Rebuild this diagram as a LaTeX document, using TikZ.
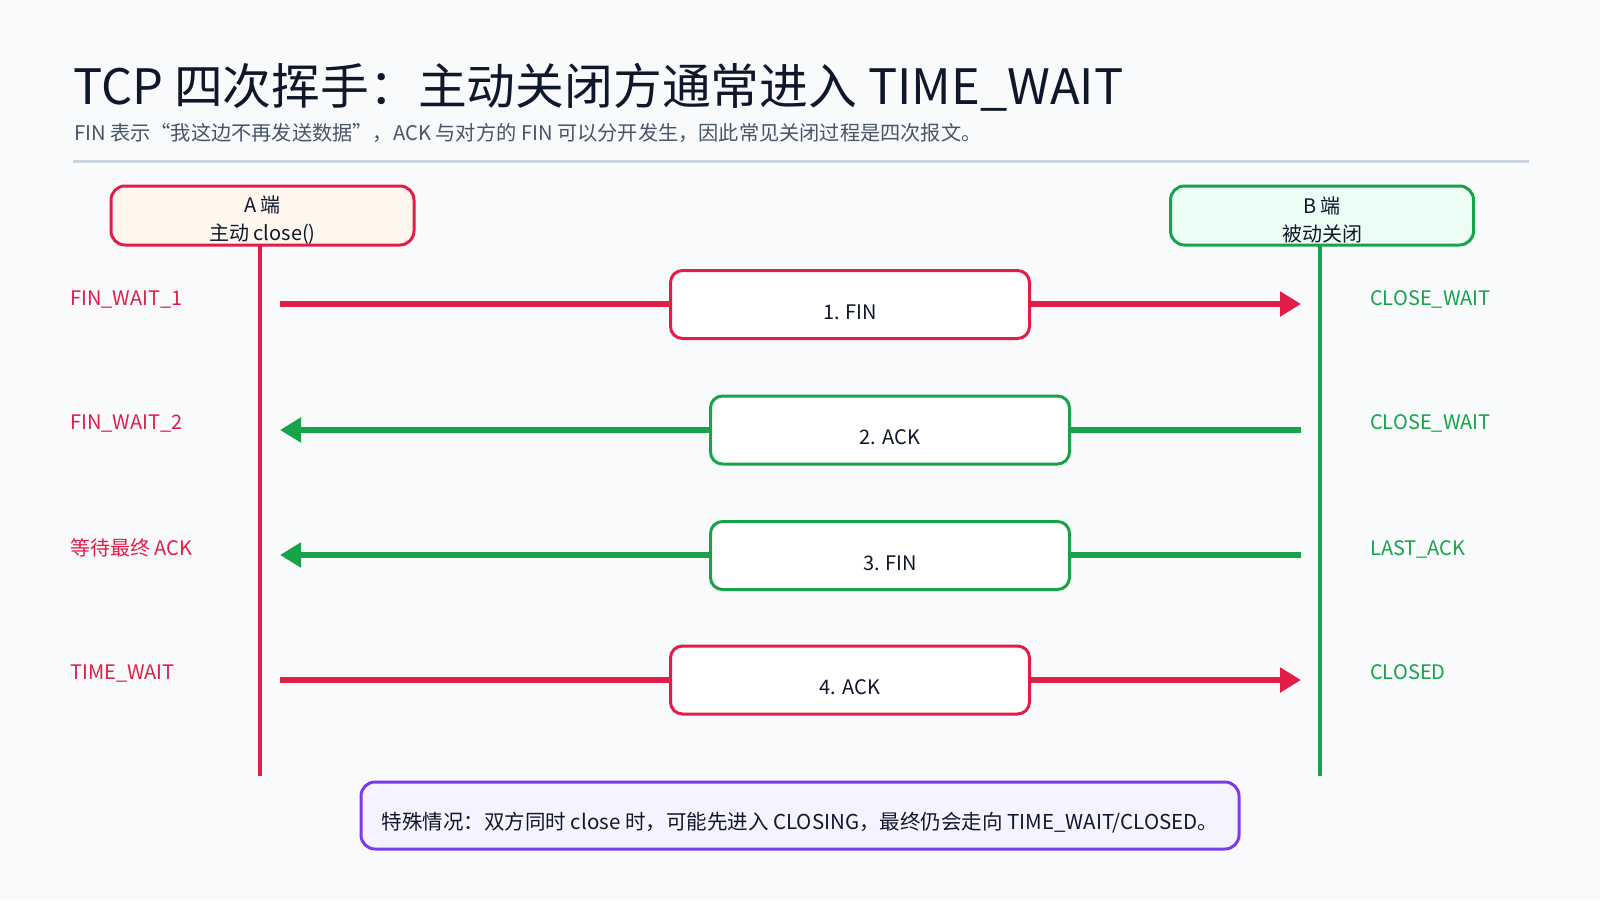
\documentclass[tikz,border=0pt]{standalone}
\usepackage{fontspec}
\setmainfont{Noto Sans CJK SC}
\usepackage{tikz}
\usetikzlibrary{arrows.meta}
\definecolor{pagebg}{HTML}{F8FAFC}
\definecolor{ink}{HTML}{0F172A}
\definecolor{subink}{HTML}{475569}
\definecolor{rule}{HTML}{CBD5E1}
\definecolor{activered}{HTML}{E11D48}
\definecolor{passivegreen}{HTML}{16A34A}
\definecolor{notepurple}{HTML}{7C3AED}
\definecolor{afill}{HTML}{FFF7ED}
\definecolor{bfill}{HTML}{ECFDF5}
\definecolor{notefill}{HTML}{F5F3FF}
\tikzset{>=stealth}
\tikzset{%
    hostbox/.style={draw, rounded corners=14pt, line width=3pt, inner sep=0pt,
        minimum width=303pt, minimum height=59pt},
    msgbox/.style={draw, fill=white, rounded corners=12pt, line width=3pt, inner sep=0pt,
        minimum width=359pt, minimum height=68pt, text height=29pt, text depth=0pt,
        text=ink, font=\fontsize{20}{24}\selectfont},
    msgline/.style={line width=6.5pt, -{Triangle[length=21pt,width=24pt]}},
    lifeline/.style={line width=4pt},
    statetext/.style={anchor=base west, inner sep=0pt, font=\fontsize{20}{24}\selectfont}
}

\begin{document}
\begin{tikzpicture}[x=1pt,y=-1pt]
\fill[pagebg] (0,0) rectangle (1600,900);
\useasboundingbox (0,0) rectangle (1600,900);

% title
\node[anchor=base west, inner sep=0pt, text=ink, font=\fontsize{48.8}{58}\selectfont] (title) at (73,104) {TCP 四次挥手：主动关闭方通常进入 TIME\_WAIT};
\node[anchor=base west, inner sep=0pt, text=subink, font=\fontsize{20.2}{24}\selectfont] (subtitle) at (74,140) {FIN 表示“我这边不再发送数据”，ACK 与对方的 FIN 可以分开发生，因此常见关闭过程是四次报文。};
\draw[rule, line width=3pt] (73,161) -- (1529,161);

% the two hosts
\node[hostbox, draw=activered, fill=afill] (hostA) at (262.5,215.5) {};
\node[hostbox, draw=passivegreen, fill=bfill] (hostB) at (1322,215.5) {};
\node[align=center, text=ink, font=\fontsize{20}{28}\selectfont] (hostAtext) at (262.5,220) {A 端\\主动 close()};
\node[align=center, text=ink, font=\fontsize{20}{28}\selectfont] (hostBtext) at (1322,220) {B 端\\被动关闭};

\coordinate (endA) at (260,776);
\coordinate (endB) at (1320,776);
\draw[lifeline, activered] (260,245) -- (endA);
\draw[lifeline, passivegreen] (1320,245) -- (endB);

% messages
\coordinate (a1) at (280,304);   \coordinate (b1) at (1301,304);
\coordinate (a2) at (280,430);   \coordinate (b2) at (1301,430);
\coordinate (a3) at (280,555);   \coordinate (b3) at (1301,555);
\coordinate (a4) at (280,680);   \coordinate (b4) at (1301,680);

\draw[msgline, activered] (a1) -- (b1);
\draw[msgline, passivegreen] (b2) -- (a2);
\draw[msgline, passivegreen] (b3) -- (a3);
\draw[msgline, activered] (a4) -- (b4);

\node[msgbox, draw=activered] (fin1) at (850,304.5) {1. FIN};
\node[msgbox, draw=passivegreen] (ack2) at (890,430) {2. ACK};
\node[msgbox, draw=passivegreen] (fin3) at (890,555.5) {3. FIN};
\node[msgbox, draw=activered] (ack4) at (850,680) {4. ACK};

% states
\node[statetext, text=activered] (sA1) at (70,305) {FIN\_WAIT\_1};
\node[statetext, text=activered] (sA2) at (70,429) {FIN\_WAIT\_2};
\node[statetext, text=activered] (sA3) at (70,555) {等待最终 ACK};
\node[statetext, text=activered] (sA4) at (70,679) {TIME\_WAIT};

\node[statetext, text=passivegreen] (sB1) at (1370,305) {CLOSE\_WAIT};
\node[statetext, text=passivegreen] (sB2) at (1370,429) {CLOSE\_WAIT};
\node[statetext, text=passivegreen] (sB3) at (1370,555) {LAST\_ACK};
\node[statetext, text=passivegreen] (sB4) at (1370,679) {CLOSED};

% note
\node[draw=notepurple, fill=notefill, rounded corners=14pt, line width=3pt, inner sep=0pt,
      minimum width=878pt, minimum height=67pt, text height=28pt, text depth=0pt,
      text=ink, font=\fontsize{20.5}{24}\selectfont] (note) at (800,815.5)
      {特殊情况：双方同时 close 时，可能先进入 CLOSING，最终仍会走向 TIME\_WAIT/CLOSED。};
\end{tikzpicture}
\end{document}
